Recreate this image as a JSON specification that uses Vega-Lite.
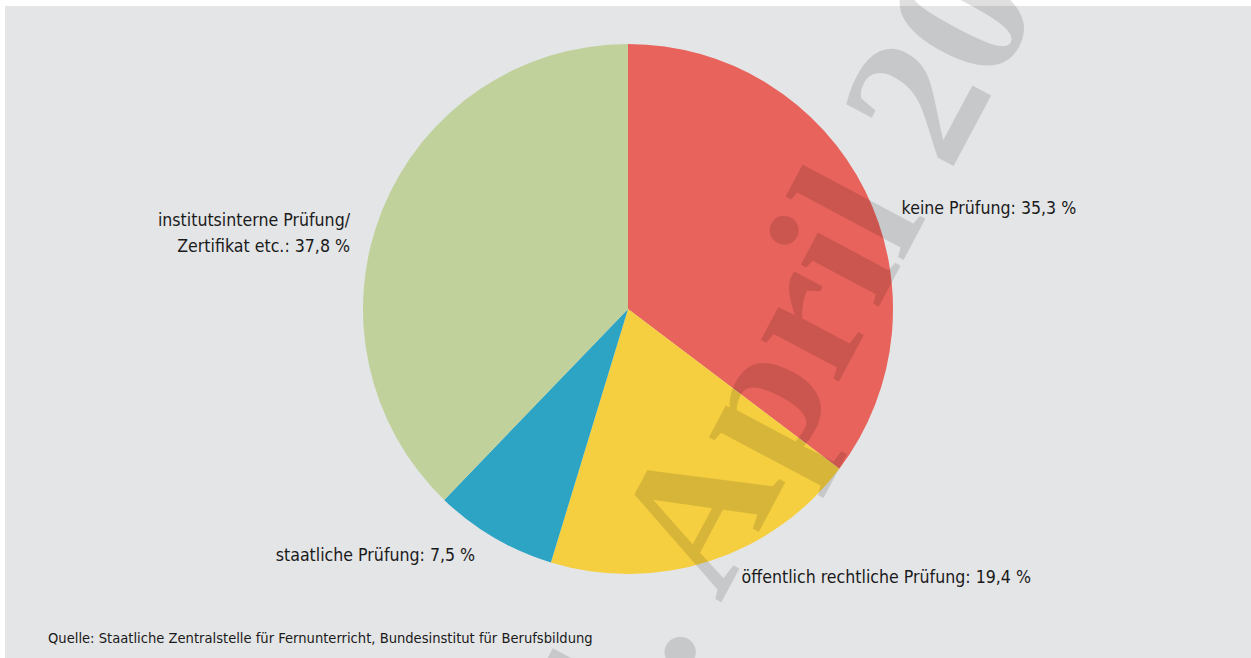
{
  "$schema": "https://vega.github.io/schema/vega-lite/v6.json",
  "width": 1246,
  "height": 652,
  "autosize": {"type": "none"},
  "padding": {"left": 5, "top": 6, "right": 0, "bottom": 0},
  "background": "#ffffff",
  "view": {"fill": "#e4e5e7", "stroke": null},
  "config": {
    "view": {"stroke": null, "fill": "#e4e5e7"},
    "text": {"font": "DejaVu Sans Condensed, Liberation Sans Narrow, sans-serif", "fontSize": 17.6, "color": "#1a1a1a", "lineBreak": "\n", "lineHeight": 26}
  },
  "data": {
    "values": [
      {"kategorie": "keine Prüfung", "label": "keine Prüfung: 35,3 %", "anteil": 35.3, "rang": 1},
      {"kategorie": "öffentlich rechtliche Prüfung", "label": "öffentlich rechtliche Prüfung: 19,4 %", "anteil": 19.4, "rang": 2},
      {"kategorie": "staatliche Prüfung", "label": "staatliche Prüfung: 7,5 %", "anteil": 7.5, "rang": 3},
      {"kategorie": "institutsinterne Prüfung/Zertifikat etc.", "label": "institutsinterne Prüfung/\nZertifikat etc.: 37,8 %", "anteil": 37.8, "rang": 4}
    ]
  },
  "layer": [
    {
      "mark": {"type": "arc", "outerRadius": 265, "y": {"expr": "height/2 - 23"}},
      "encoding": {
        "theta": {"field": "anteil", "type": "quantitative", "stack": true, "scale": {"domain": [0, 100]}},
        "order": {"field": "rang", "type": "quantitative"},
        "color": {
          "field": "kategorie",
          "type": "nominal",
          "scale": {
            "domain": ["keine Prüfung", "öffentlich rechtliche Prüfung", "staatliche Prüfung", "institutsinterne Prüfung/Zertifikat etc."],
            "range": ["#e8635b", "#f5cf40", "#2ea4c4", "#c0d19b"]
          },
          "legend": null
        }
      }
    },
    {
      "data": {"values": [{"wasserzeichen": "1. April 20"}]},
      "mark": {
        "type": "text",
        "font": "Liberation Serif",
        "fontWeight": "bold",
        "fontSize": 193,
        "angle": 298,
        "align": "left",
        "baseline": "alphabetic",
        "color": "#000000",
        "opacity": 0.12,
        "x": {"expr": "width/2 + 7"},
        "y": {"expr": "height/2 + 433"}
      },
      "encoding": {"text": {"field": "wasserzeichen"}}
    },
    {
      "data": {"values": [{"quelle": "Quelle: Staatliche Zentralstelle für Fernunterricht, Bundesinstitut für Berufsbildung"}]},
      "mark": {"type": "text", "fontSize": 14.6, "align": "left", "baseline": "alphabetic", "x": 43, "y": {"expr": "height - 15"}},
      "encoding": {"text": {"field": "quelle"}}
    },
    {
      "mark": {"type": "text", "radius": 290, "y": {"expr": "height/2 - 23"}, "align": "left", "baseline": "middle", "dx": 14, "dy": 29},
      "encoding": {
        "theta": {"field": "anteil", "type": "quantitative", "stack": true, "scale": {"domain": [0, 100]}},
        "order": {"field": "rang", "type": "quantitative"},
        "text": {"condition": {"test": "datum.rang === 1", "field": "label"}, "value": ""}
      }
    },
    {
      "mark": {"type": "text", "radius": 290, "y": {"expr": "height/2 - 23"}, "align": "left", "baseline": "middle", "dx": 24, "dy": -7},
      "encoding": {
        "theta": {"field": "anteil", "type": "quantitative", "stack": true, "scale": {"domain": [0, 100]}},
        "order": {"field": "rang", "type": "quantitative"},
        "text": {"condition": {"test": "datum.rang === 2", "field": "label"}, "value": ""}
      }
    },
    {
      "mark": {"type": "text", "radius": 290, "y": {"expr": "height/2 - 23"}, "align": "right", "baseline": "middle", "dx": -6, "dy": -3},
      "encoding": {
        "theta": {"field": "anteil", "type": "quantitative", "stack": true, "scale": {"domain": [0, 100]}},
        "order": {"field": "rang", "type": "quantitative"},
        "text": {"condition": {"test": "datum.rang === 3", "field": "label"}, "value": ""}
      }
    },
    {
      "mark": {"type": "text", "radius": 290, "y": {"expr": "height/2 - 23"}, "align": "right", "baseline": "middle", "dx": -9, "dy": 20},
      "encoding": {
        "theta": {"field": "anteil", "type": "quantitative", "stack": true, "scale": {"domain": [0, 100]}},
        "order": {"field": "rang", "type": "quantitative"},
        "text": {"condition": {"test": "datum.rang === 4", "field": "label"}, "value": ""}
      }
    }
  ]
}
